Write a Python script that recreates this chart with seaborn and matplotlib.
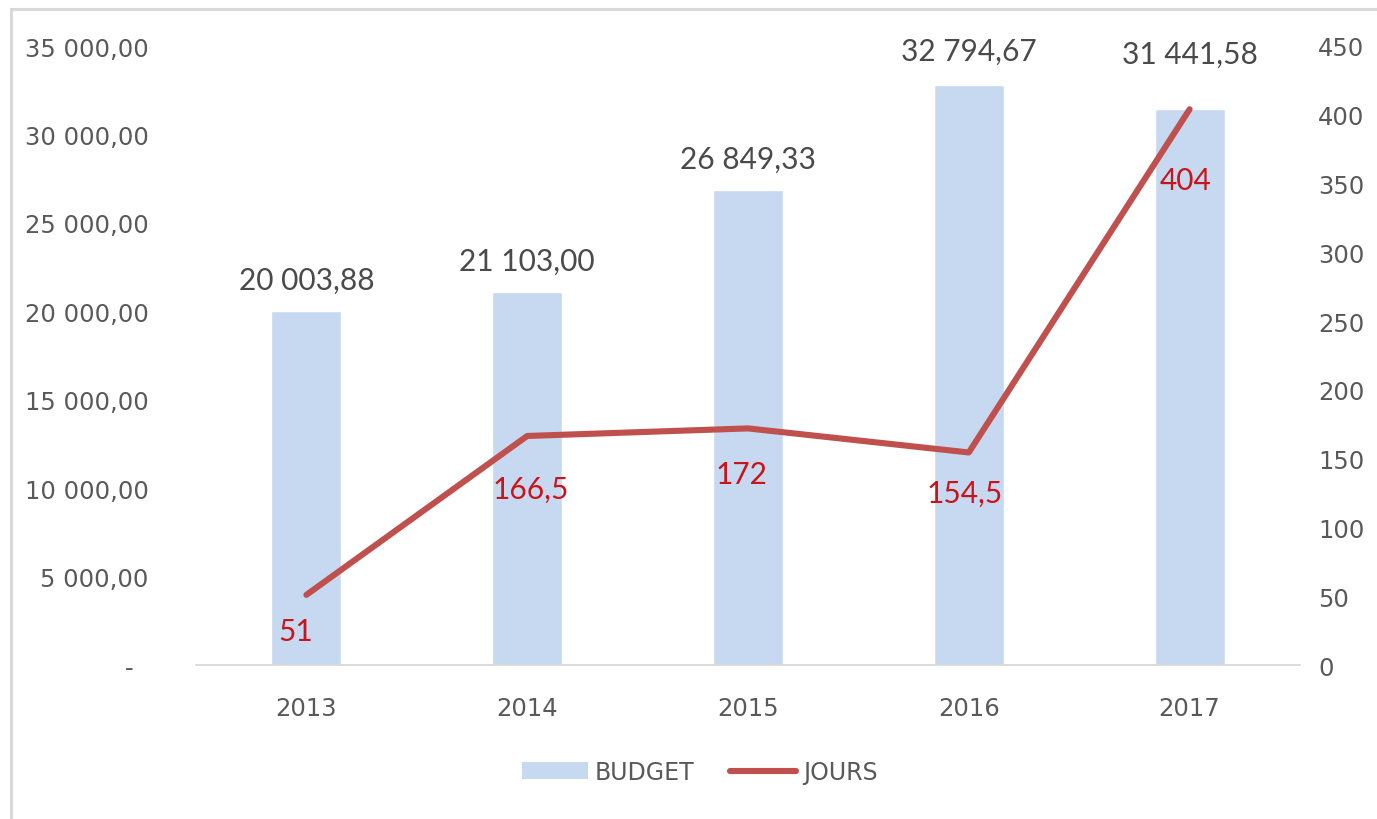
import numpy as np
import pandas as pd
import matplotlib
matplotlib.use("Agg")
import matplotlib.pyplot as plt
import seaborn as sns
from matplotlib.patches import Rectangle, Patch
from matplotlib.lines import Line2D

# Data
years = ["2013", "2014", "2015", "2016", "2017"]
budget = [20003.88, 21103.00, 26849.33, 32794.67, 31441.58]
jours = [51, 166.5, 172, 154.5, 404]

# Label offsets in pixels (dx, dy) for readability
budget_label_dy = [31, 31, 31, 34, 55]
jours_label_dx = [-11, 4, -7, -4, -4]
jours_label_dy = [-36, -53, -46, -40, -71]

BAR_COLOR = "#C6D9F0"
LINE_COLOR = "#C0504D"
TICK_COLOR = "#595959"
LABEL_COLOR = "#4A4A4A"
JOURS_LABEL_COLOR = "#C8141A"

sns.set_theme(style="white")
plt.rcParams["font.family"] = ["DejaVu Sans"]


def fr(v, dec=2):
    s = f"{v:,.{dec}f}"
    return s.replace(",", "\u202f").replace(".", ",").replace("\u202f", " ")


def fr_axis(v, pos=None):
    if abs(v) < 1e-9:
        return "-  "
    return fr(v)


def fr_jours(v):
    if float(v).is_integer():
        return f"{int(v)}"
    return f"{v}".replace(".", ",")


W, H = 1377, 820
fig = plt.figure(figsize=(W / 100, H / 100), dpi=100)
ax = fig.add_axes([196 / W, 1 - 666 / H, (1300 - 196) / W, (666 - 47) / H])

df = pd.DataFrame({"year": years, "budget": budget, "jours": jours})

sns.barplot(data=df, x="year", y="budget", color=BAR_COLOR, width=0.317,
            saturation=1, ax=ax)
ax.set_xlim(-0.5, len(years) - 0.5)
ax.set_ylim(0, 35000)
ax.set_yticks(np.arange(0, 35001, 5000))
ax.yaxis.set_major_formatter(plt.FuncFormatter(fr_axis))
ax.set_xlabel("")
ax.set_ylabel("")

ax2 = ax.twinx()
sns.lineplot(x=np.arange(len(years)), y=jours, color=LINE_COLOR, linewidth=4.4,
             ax=ax2, legend=False)
for l in ax2.lines:
    l.set_solid_capstyle("round")
    l.set_solid_joinstyle("round")
ax2.set_ylim(0, 450)
ax2.set_yticks(np.arange(0, 451, 50))
ax2.set_ylabel("")

for a in (ax, ax2):
    for side in ("left", "right", "top", "bottom"):
        a.spines[side].set_visible(False)
    a.grid(False)
    a.tick_params(length=0, labelsize=17.5, labelcolor=TICK_COLOR)
ax.spines["bottom"].set_visible(True)
ax.spines["bottom"].set_color("#D9D9D9")
ax.spines["bottom"].set_linewidth(1.3)
ax.tick_params(axis="y", pad=34)
ax.tick_params(axis="x", pad=22)
ax2.tick_params(axis="y", pad=13)

# Bar value labels
for i, v in enumerate(budget):
    ax.annotate(fr(v), xy=(i, v), xytext=(0, budget_label_dy[i] * 0.72),
                textcoords="offset points", ha="center", va="center",
                fontsize=21.5, color=LABEL_COLOR, fontfamily="Lato")

# Line value labels
for i, v in enumerate(jours):
    ax2.annotate(fr_jours(v), xy=(i, v),
                 xytext=(jours_label_dx[i] * 0.72, jours_label_dy[i] * 0.72),
                 textcoords="offset points", ha="center", va="center",
                 fontsize=21.5, color=JOURS_LABEL_COLOR, fontfamily="Lato")

# Legend
handles = [Patch(facecolor=BAR_COLOR, edgecolor="none", label="BUDGET"),
           Line2D([0], [0], color=LINE_COLOR, linewidth=4.4,
                  solid_capstyle="round", label="JOURS")]
fig.legend(handles=handles, loc="center", bbox_to_anchor=(700 / W, 1 - 773 / H),
           ncol=2, frameon=False, fontsize=17, labelcolor=TICK_COLOR,
           handlelength=2.8, handleheight=0.7, handletextpad=0.3,
           columnspacing=1.5)

# Outer chart frame
fig.patches.append(Rectangle((11 / W, -0.05), 1.2, 1.05 - 10 / H,
                             transform=fig.transFigure, fill=False,
                             edgecolor="#D9D9D9", linewidth=2.2))

fig.savefig("out.png", dpi=100)
